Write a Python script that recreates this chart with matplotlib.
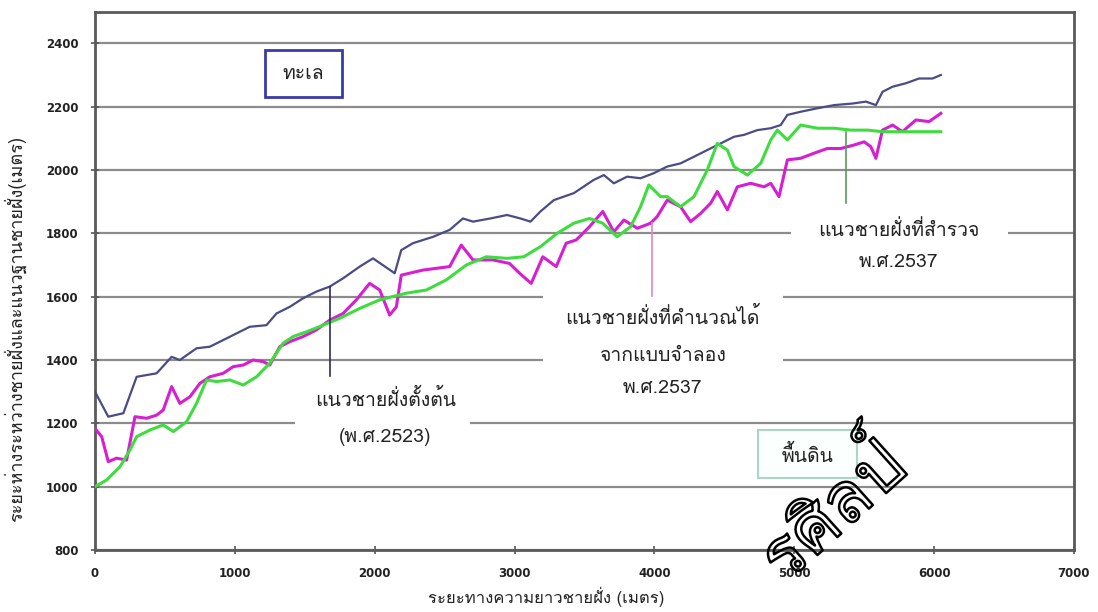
import matplotlib
matplotlib.use("Agg")
import matplotlib.pyplot as plt
import matplotlib.patheffects as pe
from matplotlib import font_manager
from matplotlib.ft2font import FT2Font
from matplotlib.patches import Rectangle


def thai_font():
    # pick the first installed font that actually has Thai glyphs
    for f in font_manager.fontManager.ttflist:
        try:
            if FT2Font(f.fname).get_char_index(ord("ก")):
                return f.name
        except Exception:
            continue
    return "DejaVu Sans"


TH = thai_font()

# initial shoreline (2523)
x_init = [0, 95, 203, 298, 441, 548, 607, 726, 821, 917, 1012, 1107, 1226, 1298,
          1393, 1488, 1583, 1679, 1774, 1893, 1988, 2143, 2190, 2274, 2417, 2536,
          2631, 2703, 2827, 2947, 3042, 3114, 3185, 3281, 3424, 3567, 3639, 3710,
          3805, 3901, 3996, 4092, 4187, 4283, 4378, 4474, 4569, 4641, 4736, 4832,
          4903, 4951, 5046, 5166, 5285, 5417, 5512, 5584, 5631, 5703, 5798, 5893,
          5989, 6048]
y_init = [1300, 1221, 1232, 1347, 1358, 1410, 1400, 1437, 1442, 1463, 1484, 1505,
          1510, 1547, 1568, 1595, 1616, 1632, 1658, 1695, 1721, 1674, 1747, 1769,
          1789, 1811, 1847, 1837, 1847, 1858, 1847, 1837, 1869, 1905, 1927, 1969,
          1984, 1958, 1979, 1974, 1990, 2011, 2021, 2042, 2063, 2084, 2105, 2111,
          2126, 2132, 2142, 2174, 2184, 2195, 2205, 2210, 2216, 2205, 2247, 2263,
          2274, 2289, 2289, 2300]

# model result (2537)
x_model = [0, 48, 95, 155, 226, 286, 369, 441, 488, 548, 607, 679, 750, 821, 917,
           988, 1060, 1131, 1202, 1250, 1321, 1393, 1488, 1583, 1679, 1774, 1869,
           1964, 2036, 2107, 2155, 2190, 2345, 2536, 2619, 2703, 2845, 2964, 3036,
           3119, 3202, 3298, 3369, 3441, 3536, 3631, 3710, 3782, 3878, 3973, 4020,
           4092, 4187, 4259, 4331, 4402, 4450, 4522, 4593, 4689, 4784, 4832, 4891,
           4951, 5046, 5141, 5237, 5333, 5428, 5500, 5547, 5584, 5631, 5703, 5774,
           5869, 5964, 6048]
y_model = [1184, 1158, 1079, 1090, 1084, 1221, 1216, 1226, 1242, 1316, 1263, 1284,
           1326, 1347, 1358, 1379, 1384, 1400, 1395, 1384, 1442, 1458, 1474, 1495,
           1526, 1547, 1590, 1642, 1621, 1542, 1568, 1668, 1684, 1695, 1763, 1716,
           1716, 1705, 1674, 1642, 1726, 1695, 1769, 1779, 1821, 1869, 1805, 1842,
           1816, 1832, 1853, 1905, 1884, 1837, 1863, 1895, 1932, 1874, 1947, 1958,
           1947, 1958, 1916, 2032, 2037, 2053, 2068, 2068, 2079, 2089, 2074, 2037,
           2126, 2142, 2121, 2158, 2153, 2179]

# surveyed shoreline (2537)
x_survey = [0, 83, 179, 250, 298, 393, 488, 560, 655, 726, 798, 869, 964, 1060,
            1155, 1250, 1345, 1417, 1512, 1631, 1750, 1893, 2036, 2226, 2369, 2512,
            2655, 2798, 2947, 3066, 3185, 3305, 3424, 3536, 3631, 3733, 3830, 3901,
            3960, 4044, 4092, 4187, 4283, 4378, 4450, 4522, 4569, 4665, 4760, 4832,
            4879, 4951, 5046, 5166, 5285, 5405, 5524, 5631, 5763, 5905, 6048]
y_survey = [1000, 1021, 1063, 1116, 1158, 1179, 1195, 1174, 1205, 1263, 1337, 1332,
            1337, 1321, 1347, 1390, 1453, 1474, 1489, 1510, 1532, 1563, 1590, 1611,
            1621, 1653, 1700, 1726, 1721, 1726, 1758, 1800, 1832, 1847, 1832, 1789,
            1821, 1884, 1953, 1916, 1916, 1884, 1916, 2000, 2084, 2063, 2011, 1984,
            2021, 2095, 2126, 2095, 2142, 2132, 2132, 2126, 2126, 2121, 2121, 2121,
            2121]

xticks = [0, 1000, 2000, 3000, 4000, 5000, 6000, 7000]
yticks = [800, 1000, 1200, 1400, 1600, 1800, 2000, 2200, 2400]

NAVY = "#4b4b86"
MAGENTA = "#d61fd0"
GREEN = "#3fdc3f"

fig = plt.figure(figsize=(10.98, 6.12), dpi=100)
ax = fig.add_axes([0.0865, 0.1013, 0.8916, 0.8796])
ax.set_xlim(0, 7000)
ax.set_ylim(800, 2500)
ax.set_xticks(xticks)
ax.set_yticks(yticks)
ax.set_axisbelow(True)
ax.yaxis.grid(True, color="#8c8c8c", lw=1.6)
ax.tick_params(direction="inout", length=6, width=1.2, color="#555555",
               labelsize=8.5, pad=9)
for lab in ax.get_xticklabels() + ax.get_yticklabels():
    lab.set_fontweight("bold")
    lab.set_color("#222222")
for s in ax.spines.values():
    s.set_color("#5a5a5a")
    s.set_linewidth(2)

# white panels behind the captions break the grid lines
for (x0, x1, y0, y1) in [(1432, 2685, 1100, 1368),
                         (3200, 4918, 1274, 1621),
                         (4975, 6528, 1653, 1867)]:
    ax.add_patch(Rectangle((x0, y0), x1 - x0, y1 - y0, facecolor="white",
                           edgecolor="none", zorder=1))

ax.plot(x_init, y_init, color=NAVY, lw=1.6, zorder=3)
ax.plot(x_model, y_model, color=MAGENTA, lw=2.2, zorder=3)
ax.plot(x_survey, y_survey, color=GREEN, lw=2.2, zorder=3)

# pointers from captions to curves
ax.plot([1677, 1677], [1632, 1349], color="#2e2e5c", lw=1.2, zorder=4)
ax.plot([3985, 3985], [1832, 1602], color="#d88ad0", lw=1.2, zorder=4)
ax.plot([5369, 5369], [2121, 1896], color="#5a9a5a", lw=1.2, zorder=4)

cap = dict(family=TH, fontsize=14, ha="center", va="center", color="#222222",
           zorder=6)
ax.text(2076, 1274, "แนวชายฝั่งตั้งต้น", **cap)
ax.text(2076, 1157, "(พ.ศ.2523)", **cap)
ax.text(4059, 1533, "แนวชายฝั่งที่คำนวณได้", **cap)
ax.text(4059, 1413, "จากแบบจำลอง", **cap)
ax.text(4059, 1312, "พ.ศ.2537", **cap)
ax.text(5748, 1811, "แนวชายฝั่งที่สำรวจ", **cap)
ax.text(5748, 1710, "พ.ศ.2537", **cap)

# sea / land tags
ax.add_patch(Rectangle((1217, 2230), 551, 149, facecolor="white",
                       edgecolor="#3a3aa8", lw=2, zorder=5))
ax.text(1492, 2303, "ทะเล", **cap)
ax.add_patch(Rectangle((4739, 1027), 708, 152, facecolor="#fbfffd",
                       edgecolor="#a9d6c6", lw=1.5, zorder=5))
ax.text(5097, 1100, "พื้นดิน", **cap)

ax.set_xlabel("ระยะทางความยาวชายฝั่ง (เมตร)", family=TH, fontsize=12,
              color="#222222")
ax.xaxis.set_label_coords(0.461, -0.068)
ax.set_ylabel("ระยะห่างระหว่างชายฝั่งและแนวฐานชายฝั่ง(เมตร)", family=TH,
              fontsize=13, color="#222222")
ax.yaxis.set_label_coords(-0.07, 0.41)

# outlined watermark across the lower right
fig.text(0.758, 0.165, "รศิลป์", family=TH, fontsize=50, color="none",
         rotation=42, ha="center", va="center", zorder=10,
         path_effects=[pe.Stroke(linewidth=1.8, foreground="black")])

fig.savefig("out.png", dpi=100)
